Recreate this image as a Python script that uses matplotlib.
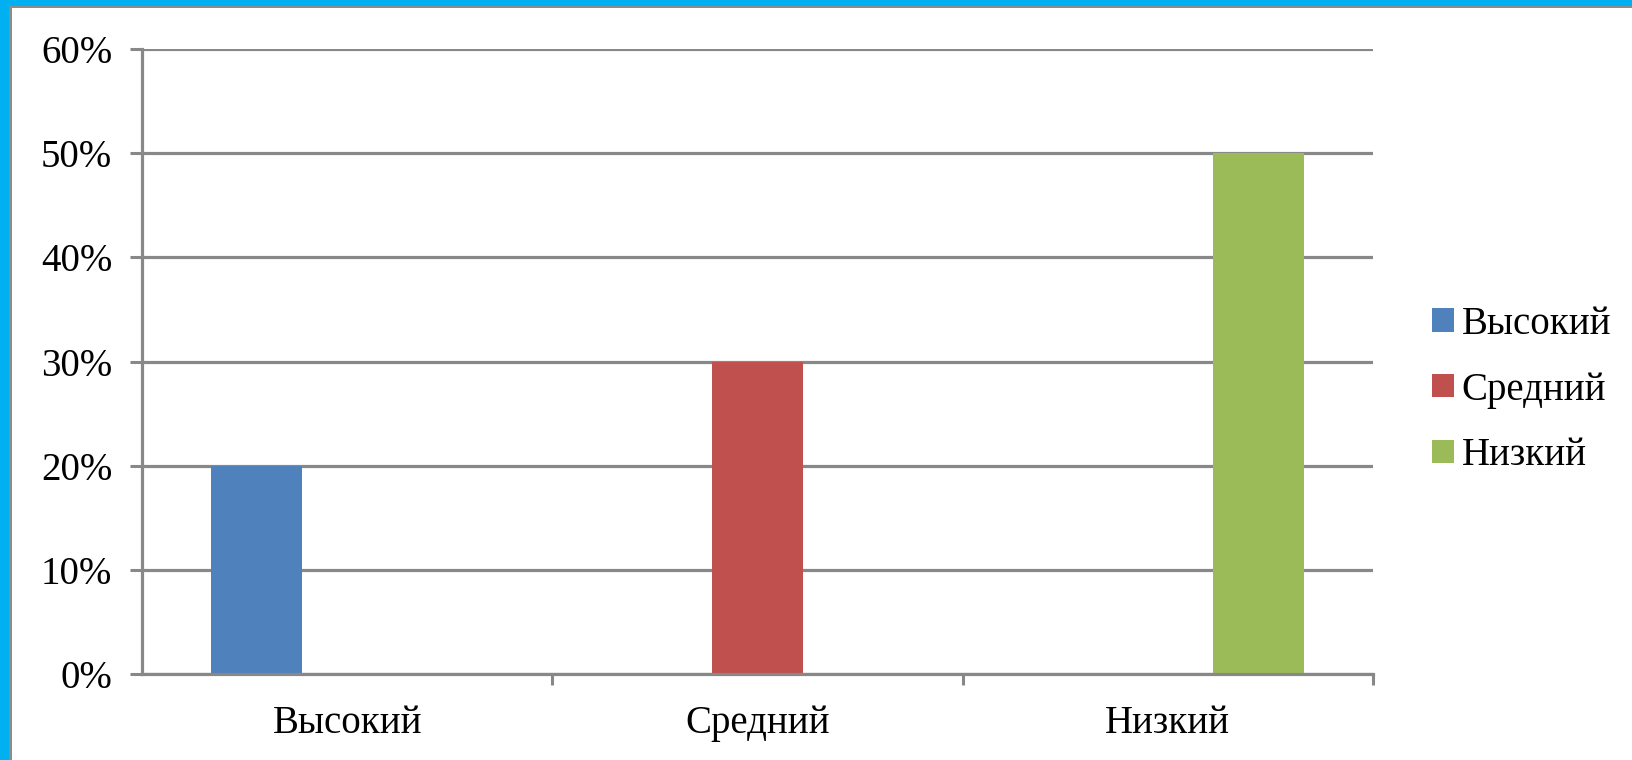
import matplotlib
matplotlib.use("Agg")
import matplotlib.pyplot as plt
from matplotlib.patches import Rectangle, Patch
from matplotlib.ticker import FuncFormatter
import numpy as np

categories = ["Высокий", "Средний", "Низкий"]
series_names = ["Высокий", "Средний", "Низкий"]
vysokiy = [0.20, 0.0, 0.0]
sredniy = [0.0, 0.30, 0.0]
nizkiy = [0.0, 0.0, 0.50]
colors = ["#4F81BD", "#C0504D", "#9BBB59"]

plt.rcParams["font.family"] = ["Liberation Serif", "DejaVu Serif"]
grid_gray = "#888888"

fig = plt.figure(figsize=(16.33, 7.60), dpi=100, facecolor="white")

# blue frame on top and left, with a thin gray inner line
W, H = 1633, 760
fig.patches.append(Rectangle((0, 1 - 8 / H), 1, 8 / H, transform=fig.transFigure,
                             facecolor="#8C8C8C", edgecolor="none", zorder=0))
fig.patches.append(Rectangle((0, 1 - 6 / H), 1, 6 / H, transform=fig.transFigure,
                             facecolor="#00B0F0", edgecolor="none", zorder=1))
fig.patches.append(Rectangle((0, 0), 12 / W, 1, transform=fig.transFigure,
                             facecolor="#8C8C8C", edgecolor="none", zorder=0))
fig.patches.append(Rectangle((0, 0), 9 / W, 1, transform=fig.transFigure,
                             facecolor="#00B0F0", edgecolor="none", zorder=1))

ax = fig.add_axes([142 / W, 1 - 674 / H, (1373 - 142) / W, (674 - 49) / H])

x = np.arange(len(categories))
bw = 0.222
for i, (vals, name) in enumerate(zip([vysokiy, sredniy, nizkiy], series_names)):
    ax.bar(x + (i - 1) * bw, vals, width=bw, color=colors[i], label=name, zorder=3)

ax.set_xlim(-0.5, 2.5)
ax.set_ylim(0, 0.6)
ax.set_yticks(np.arange(0, 0.61, 0.1))
ax.yaxis.set_major_formatter(FuncFormatter(lambda v, p: f"{v * 100:.0f}%"))
ax.set_xticks([0.5, 1.5, 2.5], minor=False)
ax.set_xticks(x, minor=True)
ax.set_xticklabels([], minor=False)
ax.set_xticklabels(categories, minor=True)
ax.tick_params(axis="x", which="major", length=8, width=2.2, color=grid_gray)
ax.tick_params(axis="x", which="minor", length=0, pad=22, labelsize=28)
ax.tick_params(axis="y", length=8.5, width=2.2, color=grid_gray, pad=13, labelsize=28)

ax.grid(axis="y", color=grid_gray, linewidth=2.3, zorder=1)
ax.set_axisbelow(True)
for s in ["top", "right"]:
    ax.spines[s].set_visible(False)
for s in ["left", "bottom"]:
    ax.spines[s].set_color(grid_gray)
    ax.spines[s].set_linewidth(2.3)
    ax.spines[s].set_zorder(4)

handles = [Patch(facecolor=c, edgecolor="none") for c in colors]
fig.legend(handles, series_names, loc="center left",
           bbox_to_anchor=(1413 / W, 1 - 390 / H), frameon=False,
           fontsize=28, handlelength=0.55, handleheight=0.55,
           handletextpad=0.2, labelspacing=0.74, borderpad=0)

fig.savefig("out.png", dpi=100, facecolor="white")
